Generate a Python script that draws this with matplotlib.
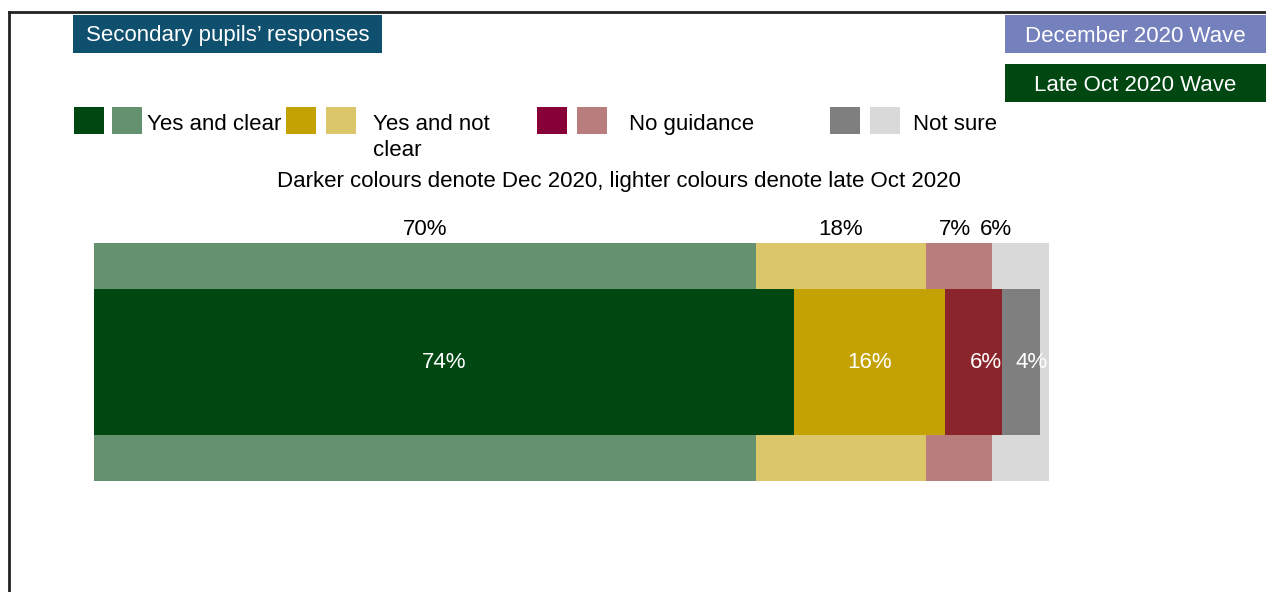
import matplotlib.pyplot as plt
from matplotlib.patches import Rectangle
from matplotlib.lines import Line2D

plt.rcParams['font.family'] = ['Liberation Sans', 'DejaVu Sans']

# Response categories and shares for the two survey waves
categories = ['Yes and clear', 'Yes and not\nclear', 'No guidance', 'Not sure']
dec_2020 = [74, 16, 6, 4]
oct_2020 = [70, 18, 7, 6]

dark_colours = ['#004712', '#c4a204', '#8a262b', '#7f7f7f']
light_colours = ['#64916f', '#dbc66a', '#b97d7e', '#d9d9d9']
legend_dark = ['#004712', '#c4a204', '#880038', '#7f7f7f']

W, H = 1266, 592
fig = plt.figure(figsize=(W / 100, H / 100), dpi=100)


def fx(x):
    return x / W


def fy(y):
    return 1 - y / H


# bar area
ax = fig.add_axes([fx(94), fy(481), (1049 - 94) / W, (481 - 243) / H])
ax.set_xlim(0, sum(oct_2020))
ax.set_ylim(0, 1)
ax.axis('off')

left = 0
oct_nudge = [0, 0, -0.4, -2.6]
for v, c, n in zip(oct_2020, light_colours, oct_nudge):
    ax.barh(0.5, v, left=left, height=1.0, color=c, linewidth=0)
    ax.text(left + v / 2 + n, 1.055, f'{v}%', ha='center', va='center',
            fontsize=16, color='black')
    left += v

left = 0
dec_nudge = [0, 0, 1.3, 1.2]
for v, c, n in zip(dec_2020, dark_colours, dec_nudge):
    ax.barh(0.5, v, left=left, height=146 / 238, color=c, linewidth=0)
    ax.text(left + v / 2 + n, 0.5, f'{v}%', ha='center', va='center',
            fontsize=16, color='white', clip_on=False)
    left += v

# outer frame (top and left edges)
fig.add_artist(Line2D([fx(9), fx(9)], [fy(12), 0], color='#222222', lw=2))
fig.add_artist(Line2D([fx(9), 1], [fy(12), fy(12)], color='#222222', lw=2))


def box(x0, y0, x1, y1, colour, label):
    fig.add_artist(Rectangle((fx(x0), fy(y1)), (x1 - x0) / W, (y1 - y0) / H,
                             transform=fig.transFigure, color=colour, lw=0))
    fig.text(fx((x0 + x1) / 2), fy((y0 + y1) / 2 + 2), label, ha='center',
             va='center', color='white', fontsize=16)


box(73, 15, 382, 53, '#10506f', 'Secondary pupils\u2019 responses')
box(1005, 15, 1266, 53, '#7581bd', 'December 2020 Wave')
box(1005, 64, 1266, 102, '#004712', 'Late Oct 2020 Wave')

# legend: dark + light swatch per category
legend_x = [74, 286, 537, 830]
text_x = [147, 373, 629, 913]
for x, tx, dc, lc, lab in zip(legend_x, text_x, legend_dark, light_colours, categories):
    for i, col in enumerate([dc, lc]):
        x0 = x + i * 38 if x == 74 else x + i * 40
        fig.add_artist(Rectangle((fx(x0), fy(134)), 30 / W, 27 / H,
                                 transform=fig.transFigure, color=col, lw=0))
    fig.text(fx(tx), fy(114), lab, ha='left', va='top', fontsize=16,
             linespacing=1.3)

fig.text(fx(619), fy(182), 'Darker colours denote Dec 2020, lighter colours denote late Oct 2020',
         ha='center', va='center', fontsize=16)

fig.savefig('out.png', dpi=100)
